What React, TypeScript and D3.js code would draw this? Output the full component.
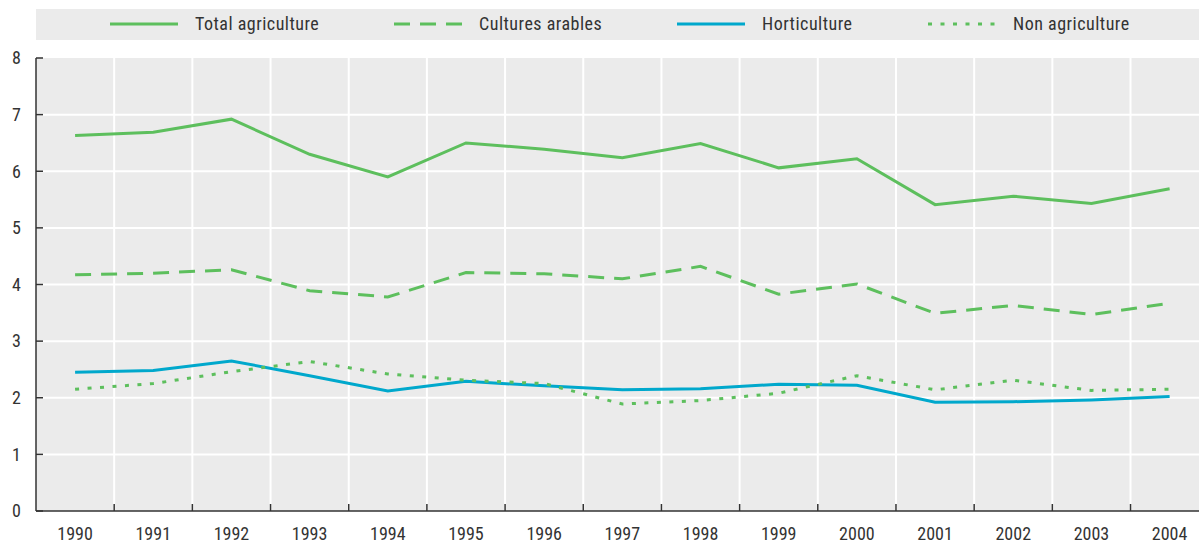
import React from 'react'
import * as d3 from 'd3'

const years = ['1990', '1991', '1992', '1993', '1994', '1995', '1996', '1997', '1998', '1999', '2000', '2001', '2002', '2003', '2004']

const totalAgriculture = [6.63, 6.69, 6.92, 6.3, 5.9, 6.5, 6.39, 6.24, 6.49, 6.06, 6.22, 5.41, 5.56, 5.43, 5.69]
const culturesArables = [4.17, 4.2, 4.26, 3.89, 3.78, 4.21, 4.19, 4.1, 4.32, 3.83, 4.01, 3.49, 3.63, 3.47, 3.67]
const horticulture = [2.45, 2.48, 2.65, 2.39, 2.12, 2.29, 2.21, 2.14, 2.16, 2.24, 2.22, 1.92, 1.93, 1.96, 2.02]
const nonAgriculture = [2.15, 2.25, 2.46, 2.64, 2.42, 2.31, 2.25, 1.89, 1.95, 2.08, 2.39, 2.14, 2.31, 2.13, 2.15]

const yTicks = [0, 1, 2, 3, 4, 5, 6, 7, 8]

const GREEN = '#5dbf5d'
const BLUE = '#00a8cc'
const FONT = '"Liberation Sans Narrow", "Roboto Condensed", "Arial Narrow", Roboto, sans-serif'

const series = [
  { name: 'Total agriculture', values: totalAgriculture, color: GREEN, dash: null, lx: 110, tx: 195 },
  { name: 'Cultures arables', values: culturesArables, color: GREEN, dash: '16,10', lx: 394, tx: 479 },
  { name: 'Horticulture', values: horticulture, color: BLUE, dash: null, lx: 677, tx: 762 },
  { name: 'Non agriculture', values: nonAgriculture, color: GREEN, dash: '4,8.5', lx: 928, tx: 1013 },
]

const W = 1199
const H = 544

const App = () => {
  const left = 36
  const bandW = 78.18
  const x = d3.scaleBand().domain(years).range([left, left + bandW * years.length])
  const y = d3.scaleLinear().domain([0, 8]).range([511, 58])

  const line = d3
    .line<number>()
    .x((d, i) => x(years[i])! + x.bandwidth() / 2)
    .y((d) => y(d))

  // band boundaries (gridlines + ticks)
  const bounds = years.slice(1).map((yr) => x(yr)!)

  return (
    <div style={{ position: 'fixed', left: 0, top: 0 }}>
      <svg width={W} height={H} style={{ display: 'block', fontFamily: FONT }}>
        <rect x={0} y={0} width={W} height={H} fill="#fff" />

        {/* legend */}
        <rect x={left} y={9} width={W - left} height={31} fill="#ebebeb" />
        {series.map((s) => (
          <g key={s.name}>
            <line
              x1={s.lx}
              x2={s.lx + 68}
              y1={24}
              y2={24}
              stroke={s.color}
              strokeWidth={3}
              strokeDasharray={s.dash ?? undefined}
            />
            <text x={s.tx} y={24} dy="0.35em" fontSize={18} letterSpacing={0.5} fill="#333">
              {s.name}
            </text>
          </g>
        ))}

        {/* plot background */}
        <rect x={left} y={y(8)} width={W - left} height={y(0) - y(8)} fill="#ebebeb" />

        {/* gridlines */}
        {yTicks.slice(1, -1).map((t) => (
          <line key={'h' + t} x1={left} x2={W} y1={y(t)} y2={y(t)} stroke="#fff" strokeWidth={2} />
        ))}
        {bounds.map((b, i) => (
          <line key={'v' + i} x1={b} x2={b} y1={y(8)} y2={y(0)} stroke="#fff" strokeWidth={2} />
        ))}

        {/* series */}
        {series.map((s) => (
          <path
            key={s.name}
            d={line(s.values) ?? ''}
            fill="none"
            stroke={s.color}
            strokeWidth={3}
            strokeDasharray={s.dash ?? undefined}
          />
        ))}

        {/* axes */}
        <line x1={left} x2={left} y1={y(8)} y2={y(0)} stroke="#333" strokeWidth={1.5} />
        <line x1={left} x2={W} y1={y(0)} y2={y(0)} stroke="#333" strokeWidth={1.5} />
        {yTicks.map((t) => (
          <g key={'yt' + t}>
            <line x1={left} x2={left + 7} y1={y(t)} y2={y(t)} stroke="#333" strokeWidth={1.5} />
            <text x={21} y={y(t)} dy="0.35em" textAnchor="end" fontSize={18} fill="#333">
              {t}
            </text>
          </g>
        ))}
        {bounds.map((b, i) => (
          <line key={'xt' + i} x1={b} x2={b} y1={y(0) - 7} y2={y(0)} stroke="#333" strokeWidth={1.5} />
        ))}
        {years.map((yr) => (
          <text
            key={yr}
            x={x(yr)! + x.bandwidth() / 2}
            y={534}
            dy="0.35em"
            textAnchor="middle"
            fontSize={18}
            fill="#333"
          >
            {yr}
          </text>
        ))}
      </svg>
    </div>
  )
}

export default App
